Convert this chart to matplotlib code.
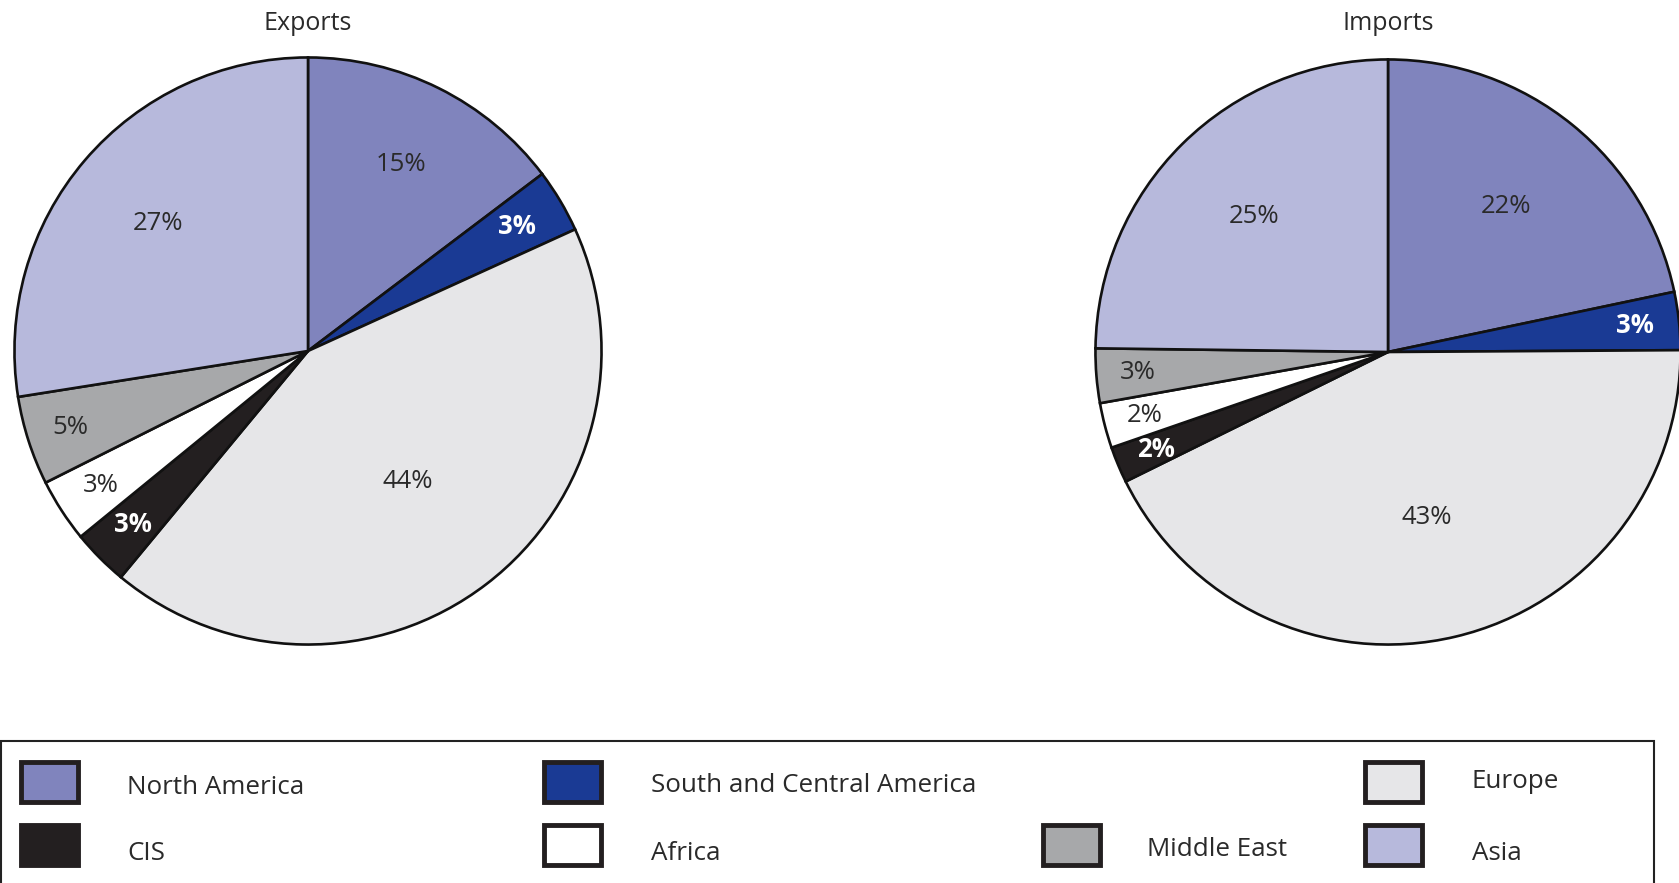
import matplotlib
matplotlib.use("Agg")
import matplotlib.pyplot as plt
from matplotlib.patches import Rectangle
import numpy as np

plt.rcParams['font.family'] = ['Open Sans', 'DejaVu Sans']

regions = ["North America", "South and Central America", "Europe", "CIS",
           "Africa", "Middle East", "Asia"]
colors = ["#8084bd", "#1a3a94", "#e6e6e8", "#231f20", "#ffffff", "#a7a8aa", "#b7b9dc"]

# shares as drawn (slice sizes, %), and the printed labels
exports_share = [14.7, 3.5, 42.8, 3.1, 3.5, 4.9, 27.5]
exports_labels = ["15%", "3%", "44%", "3%", "3%", "5%", "27%"]
imports_share = [21.7, 3.2, 42.8, 2.0, 2.5, 3.0, 24.8]
imports_labels = ["22%", "3%", "43%", "2%", "2%", "3%", "25%"]

W, H = 1679, 883
fig = plt.figure(figsize=(W / 100, H / 100), dpi=100)

label_color = ["#2a2a2a", "white", "#2a2a2a", "white", "#2a2a2a", "#2a2a2a", "#2a2a2a"]
label_weight = ["normal", "bold", "normal", "bold", "normal", "normal", "normal"]


def draw_pie(cx, cy, r, share, labels, dists, title):
    ax = fig.add_axes([(cx - r) / W, (H - cy - r) / H, 2 * r / W, 2 * r / H])
    ax.pie(share, colors=colors, startangle=90, counterclock=False,
           labels=labels, labeldistance=None,
           wedgeprops=dict(edgecolor="#111111", linewidth=1.9))
    wedges = ax.patches
    for w, lab, d, c, fw in zip(wedges, labels, dists, label_color, label_weight):
        ang = np.deg2rad((w.theta1 + w.theta2) / 2)
        ax.text(d * np.cos(ang), d * np.sin(ang), lab, ha="center", va="center",
                fontsize=18.5, color=c, fontweight=fw)
    ax.set_xlim(-1.005, 1.005)
    ax.set_ylim(-1.005, 1.005)
    ax.set_aspect("equal")
    ax.axis("off")
    fig.text(cx / W, 1 - 23 / H, title, ha="center", va="center", fontsize=18,
             color="#2a2a2a")


draw_pie(308, 351, 295, exports_share, exports_labels,
         [0.71, 0.83, 0.56, 0.84, 0.84, 0.85, 0.67], "Exports")
draw_pie(1388, 352, 294, imports_share, imports_labels,
         [0.64, 0.85, 0.58, 0.86, 0.86, 0.86, 0.65], "Imports")

# legend panel
lax = fig.add_axes([0, 0, 1, 1])
lax.set_xlim(0, W)
lax.set_ylim(H, 0)
lax.axis("off")
lax.add_patch(Rectangle((1, 741), 1653, 160, facecolor="white", edgecolor="#222222",
                        linewidth=1.5))

patch_x = [21, 544, 1365, 21, 544, 1043, 1365]
patch_y = [762, 762, 762, 825, 825, 825, 825]
text_x = [127, 651, 1472, 127, 651, 1147, 1472]
text_y = [787, 785, 782, 853, 853, 850, 853]
for i, name in enumerate(regions):
    lax.add_patch(Rectangle((patch_x[i], patch_y[i]), 57, 40, facecolor=colors[i],
                            edgecolor="#231f20", linewidth=3.5))
    lax.text(text_x[i], text_y[i], name, ha="left", va="center", fontsize=18.7,
             color="#2a2a2a")

fig.savefig("out.png", dpi=100)
